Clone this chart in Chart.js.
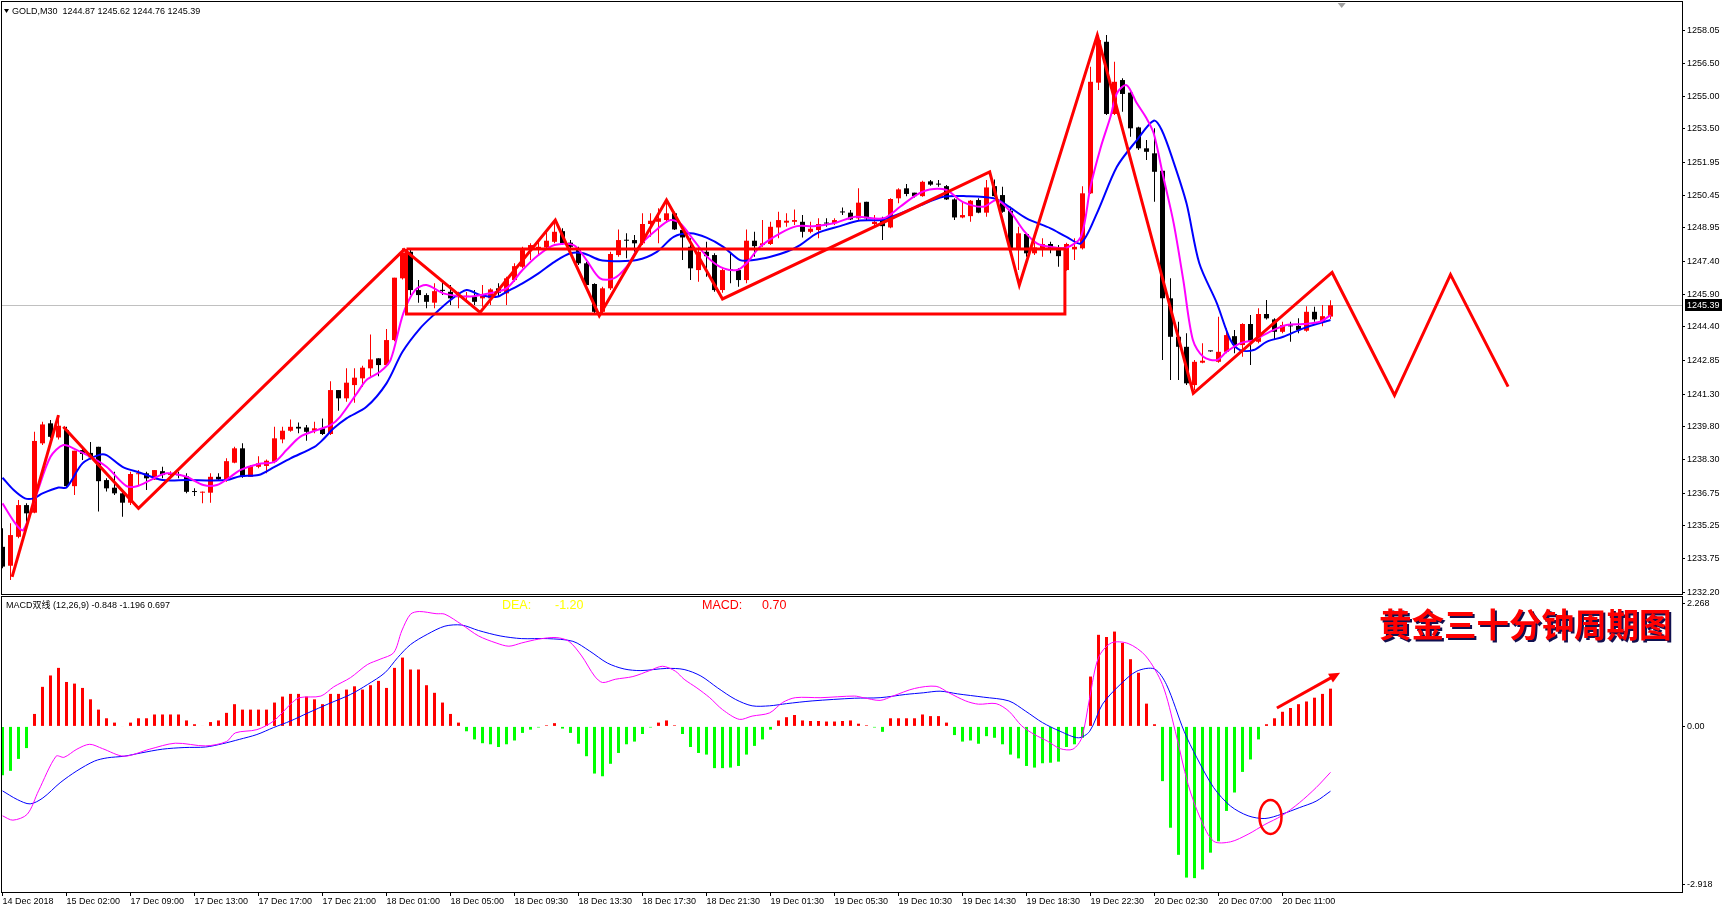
<!DOCTYPE html>
<html>
<head>
<meta charset="utf-8">
<title>GOLD M30</title>
<script src="https://cdn.jsdelivr.net/npm/chart.js@4.4.1/dist/chart.umd.min.js"></script>
<style>
html, body { margin: 0; padding: 0; background: #fff; }
#wrap { position: relative; width: 1722px; height: 908px; }
#mainBox { position: absolute; left: 0; top: 0; width: 1722px; height: 596px; }
#macdBox { position: absolute; left: 0; top: 596px; width: 1722px; height: 312px; }
</style>
</head>
<body>
<div id="wrap">
  <div id="mainBox"><canvas id="mainChart"></canvas></div>
  <div id="macdBox"><canvas id="macdChart"></canvas></div>
</div>
<script>
// candles, M30, one per bar index
const opens = [1234.28,1233.41,1234.74,1236.20,1235.85,1239.04,1239.96,1239.31,1239.65,1237.07,1238.73,1238.60,1238.88,1237.35,1237.00,1236.74,1236.31,1237.62,1237.66,1237.38,1237.76,1237.58,1237.62,1237.53,1236.83,1236.77,1236.77,1237.50,1237.38,1238.15,1238.81,1237.50,1237.96,1238.00,1238.19,1239.22,1239.62,1239.80,1239.77,1239.62,1239.73,1239.47,1241.49,1241.11,1241.72,1242.03,1242.49,1242.95,1242.64,1243.79,1246.63,1247.85,1246.09,1245.86,1245.51,1246.10,1246.01,1245.76,1245.78,1245.78,1245.71,1245.71,1246.17,1245.94,1246.55,1247.16,1247.93,1248.01,1248.05,1248.31,1248.80,1248.27,1247.93,1247.32,1246.37,1245.09,1246.17,1247.70,1248.40,1248.39,1248.24,1249.13,1249.23,1249.31,1249.62,1248.85,1248.08,1247.01,1247.85,1247.70,1246.09,1247.03,1247.01,1246.55,1248.36,1248.16,1248.21,1248.97,1249.19,1249.23,1249.23,1248.77,1248.85,1249.18,1249.16,1249.69,1249.65,1249.39,1250.15,1249.13,1249.39,1248.97,1250.31,1250.77,1250.57,1250.41,1251.09,1250.96,1250.87,1250.26,1249.43,1249.49,1250.23,1249.65,1250.87,1250.46,1249.74,1247.93,1248.67,1247.78,1248.00,1248.21,1248.00,1247.01,1247.96,1248.01,1250.54,1255.63,1257.51,1254.19,1255.75,1255.17,1253.57,1252.61,1252.38,1251.58,1245.71,1243.94,1243.48,1241.72,1242.75,1243.29,1242.79,1243.25,1243.97,1243.56,1244.53,1243.71,1244.99,1244.74,1244.17,1244.44,1244.44,1244.22,1245.09,1244.63,1244.87];
const highs = [1235.13,1235.36,1236.43,1236.28,1239.57,1240.03,1240.11,1240.34,1239.80,1238.70,1238.88,1239.10,1238.88,1237.43,1237.73,1236.82,1237.73,1237.81,1237.73,1237.81,1237.96,1237.76,1237.73,1237.66,1236.97,1236.82,1237.66,1237.66,1238.35,1238.88,1239.04,1238.04,1238.45,1238.30,1239.80,1239.80,1240.14,1240.00,1239.88,1240.03,1240.18,1241.90,1241.49,1242.49,1242.49,1242.61,1244.05,1242.95,1244.30,1246.66,1248.01,1247.93,1246.55,1245.94,1246.40,1246.47,1246.32,1246.01,1246.00,1246.09,1246.32,1246.17,1246.40,1246.70,1247.32,1248.08,1248.24,1248.31,1248.77,1249.23,1248.93,1248.39,1248.08,1247.39,1246.40,1246.24,1247.85,1248.88,1248.70,1248.62,1249.62,1249.62,1249.85,1250.23,1249.69,1248.97,1248.47,1248.08,1248.31,1247.78,1247.09,1247.78,1247.09,1248.88,1248.77,1249.31,1249.23,1249.69,1249.62,1249.80,1249.54,1249.23,1249.39,1249.39,1249.39,1249.89,1249.77,1250.77,1250.15,1249.54,1249.46,1250.31,1250.77,1250.97,1250.57,1251.12,1251.15,1251.15,1250.92,1250.31,1250.15,1250.23,1250.31,1251.15,1251.18,1250.84,1249.92,1249.00,1248.70,1248.54,1248.47,1248.31,1248.16,1248.27,1248.47,1250.87,1256.36,1257.82,1257.82,1256.59,1255.83,1255.29,1253.60,1252.99,1253.53,1251.61,1246.63,1244.63,1244.10,1242.87,1243.64,1243.30,1244.86,1244.33,1244.25,1244.56,1244.94,1245.25,1245.63,1244.79,1244.63,1244.63,1244.79,1245.35,1245.32,1245.40,1245.62];
const lows = [1233.29,1232.75,1234.67,1235.36,1235.82,1238.96,1239.27,1239.22,1237.01,1236.66,1238.27,1238.30,1235.90,1236.82,1236.66,1235.66,1236.20,1237.12,1236.89,1237.35,1237.43,1237.50,1237.43,1236.74,1236.62,1236.28,1236.31,1237.35,1237.27,1238.12,1237.46,1237.50,1237.89,1237.66,1238.12,1239.04,1239.57,1239.50,1239.16,1239.50,1239.42,1239.42,1240.54,1240.95,1240.91,1241.64,1242.10,1242.13,1242.61,1243.74,1246.58,1245.86,1245.51,1245.25,1245.25,1245.86,1245.40,1245.25,1245.50,1245.40,1245.32,1245.40,1245.78,1245.40,1246.47,1247.09,1247.47,1247.70,1247.93,1248.24,1248.16,1247.93,1247.24,1246.24,1245.02,1244.94,1246.09,1247.62,1247.55,1247.85,1248.16,1248.54,1248.24,1249.23,1248.85,1247.47,1246.55,1246.47,1246.70,1246.01,1245.97,1246.40,1246.24,1246.40,1247.62,1248.08,1248.16,1248.47,1249.00,1249.08,1248.51,1248.70,1248.47,1249.00,1249.08,1249.54,1249.31,1249.31,1249.31,1249.00,1248.39,1248.93,1250.08,1250.41,1250.35,1250.38,1250.89,1250.84,1250.23,1249.31,1249.39,1249.23,1249.62,1249.46,1250.38,1249.65,1247.78,1247.01,1247.62,1247.70,1247.62,1247.78,1247.16,1246.98,1247.47,1247.96,1250.51,1255.29,1254.14,1254.14,1254.29,1253.14,1252.53,1252.07,1250.15,1242.87,1241.95,1241.95,1241.72,1241.49,1242.72,1243.25,1242.75,1243.18,1243.18,1243.02,1242.64,1243.64,1244.74,1243.79,1244.10,1243.71,1244.10,1244.17,1244.63,1244.43,1244.76];
const closes = [1233.37,1234.82,1236.20,1235.82,1239.15,1239.91,1239.34,1239.85,1237.07,1238.70,1238.55,1238.40,1237.30,1236.97,1236.74,1236.31,1237.63,1237.66,1237.43,1237.81,1237.58,1237.66,1237.57,1236.81,1236.80,1236.80,1237.50,1237.38,1238.22,1238.81,1237.50,1237.99,1238.12,1238.24,1239.27,1239.62,1239.80,1239.72,1239.57,1239.73,1239.47,1241.49,1241.11,1241.83,1242.06,1242.52,1242.90,1242.64,1243.79,1246.66,1247.82,1246.09,1245.86,1245.55,1246.04,1246.05,1245.71,1245.80,1245.80,1245.55,1245.86,1246.12,1245.97,1246.63,1247.19,1247.93,1248.16,1248.08,1248.36,1248.77,1248.24,1248.08,1247.32,1246.32,1245.09,1246.17,1247.75,1248.39,1248.36,1248.24,1249.13,1249.28,1249.39,1249.62,1248.88,1248.51,1247.09,1247.85,1247.65,1246.09,1247.01,1247.00,1246.55,1248.36,1248.11,1248.24,1249.00,1249.31,1249.28,1249.31,1248.77,1248.91,1249.13,1249.15,1249.31,1249.66,1249.34,1250.11,1249.39,1249.23,1249.03,1250.28,1250.72,1250.51,1250.41,1251.07,1250.94,1250.94,1250.26,1249.43,1249.54,1250.20,1249.65,1250.81,1250.41,1249.69,1247.93,1248.70,1247.78,1248.05,1248.21,1248.00,1247.65,1248.21,1248.08,1250.54,1255.67,1257.59,1254.19,1255.67,1255.11,1253.53,1252.61,1252.45,1251.53,1245.71,1243.94,1243.48,1241.80,1242.79,1242.84,1243.27,1243.25,1244.02,1243.56,1244.53,1243.71,1244.99,1244.79,1244.17,1244.48,1244.42,1244.25,1245.09,1244.74,1244.89,1245.39];

// moving averages: [bar, price]
const maFast = [[0,1236.28],[1.6,1235.36],[2.6,1235.05],[4.3,1236.74],[6,1238.42],[7.6,1238.96],[9.3,1238.73],[11,1238.42],[13,1237.96],[15.5,1237.07],[16.8,1237.07],[18.5,1237.35],[20.5,1237.66],[23,1237.50],[25.1,1237.12],[26.8,1237.12],[28.5,1237.50],[29.7,1237.81],[32,1238.09],[34,1238.19],[35.5,1238.73],[37.2,1239.34],[39.3,1239.65],[41,1239.88],[42.2,1240.26],[44.3,1241.34],[45.5,1241.95],[47.2,1242.33],[48.5,1242.87],[50.1,1245.02],[51.6,1246.10],[53,1246.32],[55.1,1245.94],[57.2,1245.81],[58.9,1245.81],[60.9,1245.94],[63,1246.17],[65,1247.01],[67,1247.70],[69,1248.16],[71.4,1248.16],[73,1247.47],[74.7,1246.63],[76.4,1246.63],[78,1247.16],[79.7,1248.16],[81.8,1248.88],[83.5,1249.31],[84.7,1249.16],[86.4,1248.39],[88,1247.65],[89.7,1247.16],[91.8,1247.01],[93,1247.32],[94.7,1248.08],[97.2,1248.70],[99.3,1249.03],[101.4,1249.03],[103.9,1249.16],[106.6,1249.46],[110.1,1249.39],[112.2,1249.92],[114.2,1250.46],[115.9,1250.72],[118,1250.69],[120,1250.15],[122.6,1249.92],[124.3,1250.23],[126,1249.69],[127.6,1248.85],[129.3,1248.24],[131,1248.08],[133,1248.04],[134.8,1248.54],[136,1250.84],[137.3,1252.68],[138.5,1254.06],[139.3,1255.14],[140.5,1255.52],[141.8,1254.68],[143,1253.99],[143.9,1253.30],[145.1,1251.30],[146.4,1249.16],[147.6,1246.55],[148.8,1243.79],[150.1,1243.02],[151.8,1242.87],[153,1243.25],[154.7,1243.64],[156.4,1243.79],[158.4,1244.17],[160.5,1244.48],[162.6,1244.53],[164.7,1244.63],[166,1244.94]];
const maSlow = [[0,1237.46],[1.4,1236.89],[2.8,1236.51],[3.9,1236.51],[5,1236.74],[7,1237.01],[8,1237.01],[10,1238.12],[12,1238.50],[13,1238.50],[15,1237.96],[17.2,1237.69],[20,1237.35],[23,1237.35],[28,1237.35],[29.7,1237.53],[32,1237.58],[34,1237.96],[36,1238.35],[39,1238.88],[40,1239.19],[41.4,1239.73],[43,1240.19],[45.5,1240.72],[48,1241.80],[50,1243.25],[52.2,1244.33],[54,1244.98],[56,1245.63],[58,1246.09],[59.7,1245.86],[61.8,1245.78],[63,1246.01],[65,1246.40],[67,1246.86],[69,1247.39],[71,1247.78],[72.6,1247.78],[74.7,1247.47],[76.4,1247.42],[79.3,1247.47],[81.8,1247.85],[83.9,1248.54],[86,1248.70],[88,1248.50],[90.1,1248.08],[92.2,1247.47],[93.9,1247.47],[96,1247.62],[98,1247.85],[99.7,1248.16],[101.8,1248.70],[104.7,1249.03],[107,1249.28],[110.1,1249.34],[114.3,1249.92],[117.6,1250.38],[120.5,1250.41],[123.9,1250.31],[125.5,1250.00],[128,1249.39],[131,1248.93],[133,1248.54],[134.8,1248.24],[136.8,1249.62],[139.3,1251.76],[141.8,1252.99],[143.9,1253.88],[144.9,1253.45],[146.3,1252.07],[148,1250.08],[149.6,1247.32],[151.8,1245.48],[153.5,1243.79],[154.7,1243.33],[156.4,1243.33],[158,1243.71],[160.1,1243.94],[162.6,1244.33],[166,1244.71]];

// hand-drawn red objects: [bar, price]
const zigA = [[1.2,1232.90],[7.0,1240.34]];
const zigB = [[7.6,1239.80],[17.0,1236.05],[50.2,1247.95],[59.7,1245.06],[69.1,1249.31],[74.6,1244.91],[83.0,1250.23],[90.0,1245.68],[123.4,1251.53],[127.1,1246.32],[136.85,1257.82],[148.85,1241.34],[166.2,1246.90],[174.0,1241.25],[181.0,1246.80],[188.2,1241.65]];
const boxBars = [50.5, 132.8];
const boxPrices = [1247.98, 1244.99];

// MACD (12,26,9)
const macdHist = [-0.90,-0.82,-0.60,-0.40,0.23,0.73,0.94,1.08,0.82,0.79,0.71,0.50,0.31,0.15,0.07,-0.01,0.07,0.15,0.15,0.22,0.22,0.22,0.22,0.11,0.04,0.01,0.08,0.11,0.25,0.41,0.31,0.31,0.31,0.31,0.44,0.55,0.60,0.60,0.55,0.50,0.41,0.60,0.60,0.68,0.74,0.68,0.76,0.84,0.71,1.08,1.27,1.05,1.05,0.76,0.62,0.44,0.23,0.07,-0.09,-0.24,-0.31,-0.33,-0.38,-0.33,-0.26,-0.12,-0.06,-0.02,0.02,0.06,-0.04,-0.12,-0.32,-0.55,-0.87,-0.92,-0.69,-0.49,-0.33,-0.28,-0.14,-0.02,0.07,0.11,0.02,-0.14,-0.38,-0.49,-0.52,-0.77,-0.77,-0.76,-0.73,-0.52,-0.36,-0.24,-0.06,0.11,0.17,0.21,0.11,0.10,0.10,0.09,0.09,0.10,0.11,0.05,0.02,-0.02,-0.10,0.15,0.15,0.15,0.15,0.22,0.19,0.19,0.07,-0.16,-0.28,-0.26,-0.32,-0.18,-0.21,-0.33,-0.52,-0.59,-0.73,-0.76,-0.68,-0.67,-0.65,-0.38,-0.33,-0.21,0.92,1.69,1.65,1.75,1.54,1.24,0.99,0.42,0.04,-1.01,-1.87,-2.37,-2.79,-2.80,-2.64,-2.33,-2.12,-1.56,-1.22,-0.84,-0.61,-0.24,0.04,0.15,0.27,0.34,0.41,0.46,0.53,0.60,0.697];
const difLine = [[0,-1.65],[1.3,-1.73],[3.1,-1.62],[4.5,-1.19],[6.7,-0.55],[7.7,-0.57],[9.3,-0.42],[10.9,-0.33],[12.5,-0.41],[15.2,-0.55],[18.4,-0.42],[21.6,-0.31],[25.4,-0.36],[28.0,-0.28],[29.1,-0.12],[31.8,-0.06],[33.9,0.10],[36.0,0.41],[37.1,0.53],[39.8,0.56],[41.4,0.73],[43.5,0.90],[45.6,1.14],[47.2,1.24],[48.9,1.36],[49.9,1.76],[51.0,2.07],[52.1,2.12],[54.2,2.08],[55.3,2.07],[57.4,1.88],[59.5,1.67],[61.7,1.54],[63.3,1.48],[64.9,1.54],[67.0,1.61],[69.2,1.64],[70.8,1.57],[72.4,1.30],[74.0,0.93],[75.0,0.81],[76.6,0.87],[78.8,0.92],[80.9,1.03],[82.5,1.11],[84.1,1.02],[85.2,0.87],[86.8,0.71],[88.4,0.53],[90.0,0.31],[92.1,0.13],[93.7,0.19],[95.9,0.25],[97.5,0.44],[99.1,0.53],[102.3,0.53],[106.5,0.56],[107.6,0.53],[109.7,0.48],[111.3,0.56],[114.0,0.70],[116.7,0.74],[118.3,0.62],[120.4,0.47],[122.0,0.41],[124.2,0.42],[125.8,0.28],[127.4,0.01],[129.0,-0.15],[130.6,-0.27],[132.2,-0.41],[133.8,-0.42],[134.9,-0.21],[135.9,0.53],[137.0,1.27],[138.6,1.54],[140.7,1.53],[142.9,1.30],[145.0,0.77],[146.6,-0.09],[148.2,-1.07],[149.8,-1.72],[151.4,-2.12],[153.5,-2.13],[155.7,-1.99],[157.8,-1.81],[159.9,-1.65],[162.1,-1.41],[164.2,-1.13],[166,-0.848]];
const deaLine = [[0,-1.19],[1.85,-1.35],[3.45,-1.43],[5.05,-1.32],[7.2,-1.04],[9.3,-0.82],[11.5,-0.64],[13.1,-0.58],[15.2,-0.55],[17.3,-0.49],[20.0,-0.42],[22.7,-0.39],[25.4,-0.38],[27.5,-0.32],[29.6,-0.24],[31.8,-0.15],[33.9,-0.02],[36.0,0.10],[38.2,0.25],[40.8,0.42],[43.5,0.59],[45.6,0.77],[47.8,0.99],[49.4,1.27],[51.0,1.51],[53.1,1.70],[55.3,1.85],[57.4,1.87],[59.5,1.77],[62.2,1.67],[64.9,1.62],[68.1,1.62],[71.3,1.57],[73.4,1.39],[75.6,1.17],[77.7,1.06],[79.8,1.03],[83.0,1.07],[85.2,1.05],[87.3,0.93],[89.4,0.71],[91.6,0.50],[93.7,0.38],[95.9,0.38],[98.0,0.42],[101.2,0.47],[106.5,0.52],[109.7,0.53],[112.9,0.59],[115.1,0.62],[117.2,0.65],[119.4,0.60],[122.6,0.54],[125.8,0.47],[127.9,0.28],[130.0,0.07],[132.2,-0.09],[134.5,-0.21],[135.9,-0.09],[137.5,0.41],[139.7,0.77],[141.8,1.02],[144.0,1.06],[145.5,0.77],[147.7,-0.09],[149.3,-0.58],[151.4,-1.13],[153.5,-1.47],[155.7,-1.65],[157.8,-1.70],[159.9,-1.62],[162.1,-1.50],[164.2,-1.38],[166,-1.196]];
const circleMark = [158.5, -1.67];
const arrowMark = [[159.3, 0.34], [167.2, 0.99]];

// axes
const priceTicks = [1258.05,1256.50,1255.00,1253.50,1251.95,1250.45,1248.95,1247.40,1245.90,1244.40,1242.85,1241.30,1239.80,1238.30,1236.75,1235.25,1233.75,1232.20];
const macdTicks = [2.268, 0, -2.918];
const macdTickLabels = ['2.268', '0.00', '-2.918'];
const timeLabels = ['14 Dec 2018','15 Dec 02:00','17 Dec 09:00','17 Dec 13:00','17 Dec 17:00','17 Dec 21:00','18 Dec 01:00','18 Dec 05:00','18 Dec 09:30','18 Dec 13:30','18 Dec 17:30','18 Dec 21:30','19 Dec 01:30','19 Dec 05:30','19 Dec 10:30','19 Dec 14:30','19 Dec 18:30','19 Dec 22:30','20 Dec 02:30','20 Dec 07:00','20 Dec 11:00'];
const labelEvery = 8;
const lastOHLC = [1244.87, 1245.62, 1244.76, 1245.39];
const lastPrice = 1245.39;

const xMin = -0.0625, xMax = 209.9375;
const FONT = '"Liberation Sans", Arial, "Noto Sans CJK SC", sans-serif';
const tickFont = { family: FONT, size: 9 };

const idx = opens.map((o, i) => i);
const candleColors = opens.map((o, i) => closes[i] >= o ? '#ff0000' : '#000000');
const toXY = arr => arr.map(p => ({ x: p[0], y: p[1] }));
const boxPath = [[boxBars[0], boxPrices[0]], [boxBars[1], boxPrices[0]], [boxBars[1], boxPrices[1]], [boxBars[0], boxPrices[1]], [boxBars[0], boxPrices[0]]];

function noPad(s) { s.paddingTop = 0; s.paddingBottom = 0; s.paddingLeft = 0; s.paddingRight = 0; }

// borders, header, price line
const mainDecor = {
    id: 'mainDecor',
    beforeDatasetsDraw(chart) {
        const { ctx, chartArea: a, scales: { y } } = chart;
        const py = Math.round(y.getPixelForValue(lastPrice)) + 0.5;
        ctx.save();
        ctx.strokeStyle = '#c0c0c0';
        ctx.lineWidth = 1;
        ctx.beginPath(); ctx.moveTo(a.left, py); ctx.lineTo(a.right, py); ctx.stroke();
        ctx.restore();
    },
    afterDraw(chart) {
        const { ctx, chartArea: a, scales: { x, y } } = chart;
        ctx.save();
        ctx.strokeStyle = '#000';
        ctx.lineWidth = 1;
        ctx.strokeRect(a.left - 0.5, a.top - 0.5, a.right - a.left + 1, a.bottom - a.top + 1);

        const py = Math.round(y.getPixelForValue(lastPrice));
        ctx.fillStyle = '#000';
        ctx.fillRect(a.right + 3, py - 6, 40, 12);
        ctx.fillStyle = '#fff';
        ctx.font = '9px ' + FONT;
        ctx.textBaseline = 'middle';
        ctx.fillText(lastPrice.toFixed(2), a.right + 5, py + 0.5);

        // header
        ctx.fillStyle = '#000';
        ctx.beginPath(); ctx.moveTo(4, 9); ctx.lineTo(9, 9); ctx.lineTo(6.5, 13); ctx.closePath(); ctx.fill();
        ctx.fillText('GOLD,M30  ' + lastOHLC.map(v => v.toFixed(2)).join(' '), 12, 11.5);

        // chart shift marker
        const sx = x.getPixelForValue(idx.length + 0.4);
        ctx.fillStyle = '#a0a0a0';
        ctx.beginPath(); ctx.moveTo(sx - 4, a.top + 1); ctx.lineTo(sx + 4, a.top + 1); ctx.lineTo(sx, a.top + 6); ctx.closePath(); ctx.fill();
        ctx.restore();
    }
};

const mainChart = new Chart(document.getElementById('mainChart').getContext('2d'), {
    type: 'bar',
    data: {
        datasets: [
            { type: 'bar', data: idx.map(i => ({ x: i, y: [lows[i], highs[i]] })), backgroundColor: candleColors, barThickness: 1, grouped: false, inflateAmount: 0, order: 6 },
            { type: 'bar', data: idx.map(i => ({ x: i, y: [opens[i], closes[i]] })), backgroundColor: candleColors, barThickness: 5, minBarLength: 1, grouped: false, inflateAmount: 0, order: 5 },
            { type: 'line', data: toXY(maSlow), borderColor: '#0000ff', borderWidth: 2, pointRadius: 0, tension: 0.3, order: 4 },
            { type: 'line', data: toXY(maFast), borderColor: '#ff00ff', borderWidth: 2, pointRadius: 0, tension: 0.3, order: 3 },
            { type: 'line', data: toXY(boxPath), borderColor: '#ff0000', borderWidth: 3, pointRadius: 0, tension: 0, order: 2 },
            { type: 'line', data: toXY(zigA), borderColor: '#ff0000', borderWidth: 3, pointRadius: 0, tension: 0, order: 1 },
            { type: 'line', data: toXY(zigB), borderColor: '#ff0000', borderWidth: 3, pointRadius: 0, tension: 0, order: 1 }
        ]
    },
    options: {
        responsive: true,
        maintainAspectRatio: false,
        animation: false,
        layout: { padding: { left: 2, top: 2, right: 0, bottom: 2 } },
        plugins: { legend: { display: false }, tooltip: { enabled: false } },
        scales: {
            x: { type: 'linear', min: xMin, max: xMax, offset: false, display: false, grid: { offset: false } },
            y: {
                position: 'right',
                min: 1232.11,
                max: 1259.34,
                afterBuildTicks: s => { s.ticks = priceTicks.map(v => ({ value: v })); },
                afterFit: s => { s.width = 40; noPad(s); },
                ticks: { font: tickFont, color: '#000', padding: 2, callback: v => v.toFixed(2) },
                grid: { drawOnChartArea: false, tickLength: 3, color: '#000' },
                border: { display: false }
            }
        }
    },
    plugins: [mainDecor]
});

// MACD panel texts and marks
const macdDecor = {
    id: 'macdDecor',
    afterDatasetsDraw(chart) {
        const { ctx, scales: { x, y } } = chart;
        ctx.save();
        ctx.strokeStyle = '#ff0000';
        ctx.lineWidth = 2.5;
        ctx.beginPath();
        ctx.ellipse(x.getPixelForValue(circleMark[0]), y.getPixelForValue(circleMark[1]), 11, 17, 0, 0, Math.PI * 2);
        ctx.stroke();

        const x0 = x.getPixelForValue(arrowMark[0][0]), y0 = y.getPixelForValue(arrowMark[0][1]);
        const x1 = x.getPixelForValue(arrowMark[1][0]), y1 = y.getPixelForValue(arrowMark[1][1]);
        const ang = Math.atan2(y1 - y0, x1 - x0);
        ctx.lineWidth = 3;
        ctx.beginPath(); ctx.moveTo(x0, y0); ctx.lineTo(x1 - 6 * Math.cos(ang), y1 - 6 * Math.sin(ang)); ctx.stroke();
        ctx.fillStyle = '#ff0000';
        ctx.beginPath();
        ctx.moveTo(x1, y1);
        ctx.lineTo(x1 - 11 * Math.cos(ang) + 5 * Math.sin(ang), y1 - 11 * Math.sin(ang) - 5 * Math.cos(ang));
        ctx.lineTo(x1 - 11 * Math.cos(ang) - 5 * Math.sin(ang), y1 - 11 * Math.sin(ang) + 5 * Math.cos(ang));
        ctx.closePath(); ctx.fill();
        ctx.restore();
    },
    afterDraw(chart) {
        const { ctx, chartArea: a } = chart;
        ctx.save();
        ctx.strokeStyle = '#000';
        ctx.lineWidth = 1;
        ctx.strokeRect(a.left - 0.5, a.top - 0.5, a.right - a.left + 1, a.bottom - a.top + 1);

        ctx.textBaseline = 'middle';
        ctx.fillStyle = '#000';
        ctx.font = '9px ' + FONT;
        const n = macdHist.length - 1;
        ctx.fillText('MACD双线 (12,26,9) ' + difLine[difLine.length - 1][1].toFixed(3) + ' ' + deaLine[deaLine.length - 1][1].toFixed(3) + ' ' + macdHist[n].toFixed(3), 6, 10);

        ctx.font = '12.5px ' + FONT;
        ctx.fillStyle = '#ffff00';
        ctx.fillText('DEA:', 502, 10);
        ctx.fillText(deaLine[deaLine.length - 1][1].toFixed(2), 555, 10);
        ctx.fillStyle = '#ff0000';
        ctx.fillText('MACD:', 702, 10);
        ctx.fillText(macdHist[n].toFixed(2), 762, 10);

        // title
        ctx.font = 'bold 32.5px "Noto Sans CJK SC", sans-serif';
        ctx.textAlign = 'left';
        ctx.shadowColor = '#101050';
        ctx.shadowOffsetX = 2;
        ctx.shadowOffsetY = 2;
        ctx.fillStyle = '#ff0000';
        ctx.fillText('黄金三十分钟周期图', 1379, 29);
        ctx.restore();
    }
};

const macdChart = new Chart(document.getElementById('macdChart').getContext('2d'), {
    type: 'bar',
    data: {
        datasets: [
            { type: 'bar', data: idx.map(i => ({ x: i, y: macdHist[i] })), backgroundColor: macdHist.map(v => v >= 0 ? '#ff0000' : '#00ff00'), barThickness: 3, grouped: false, inflateAmount: 0, order: 3 },
            { type: 'line', data: toXY(deaLine), borderColor: '#0000ff', borderWidth: 1, pointRadius: 0, tension: 0.3, order: 2 },
            { type: 'line', data: toXY(difLine), borderColor: '#ff00ff', borderWidth: 1, pointRadius: 0, tension: 0.3, order: 1 }
        ]
    },
    options: {
        responsive: true,
        maintainAspectRatio: false,
        animation: false,
        layout: { padding: { left: 2, top: 1, right: 0, bottom: 0 } },
        plugins: { legend: { display: false }, tooltip: { enabled: false } },
        scales: {
            x: {
                type: 'linear',
                min: xMin,
                max: xMax,
                offset: false,
                afterBuildTicks: s => { s.ticks = timeLabels.map((t, k) => ({ value: k * labelEvery })); },
                afterFit: s => { s.height = 16; noPad(s); },
                ticks: { font: tickFont, color: '#000', padding: 0, align: 'start', maxRotation: 0, autoSkip: false, callback: (v, i) => timeLabels[i] },
                grid: { offset: false, drawOnChartArea: false, tickLength: 4, color: '#000' },
                border: { display: false }
            },
            y: {
                position: 'right',
                min: -3.056,
                max: 2.388,
                afterBuildTicks: s => { s.ticks = macdTicks.map(v => ({ value: v })); },
                afterFit: s => { s.width = 40; noPad(s); },
                ticks: { font: tickFont, color: '#000', padding: 2, callback: v => macdTickLabels[macdTicks.indexOf(v)] },
                grid: { drawOnChartArea: false, tickLength: 3, color: '#000' },
                border: { display: false }
            }
        }
    },
    plugins: [macdDecor]
});
</script>
</body>
</html>
